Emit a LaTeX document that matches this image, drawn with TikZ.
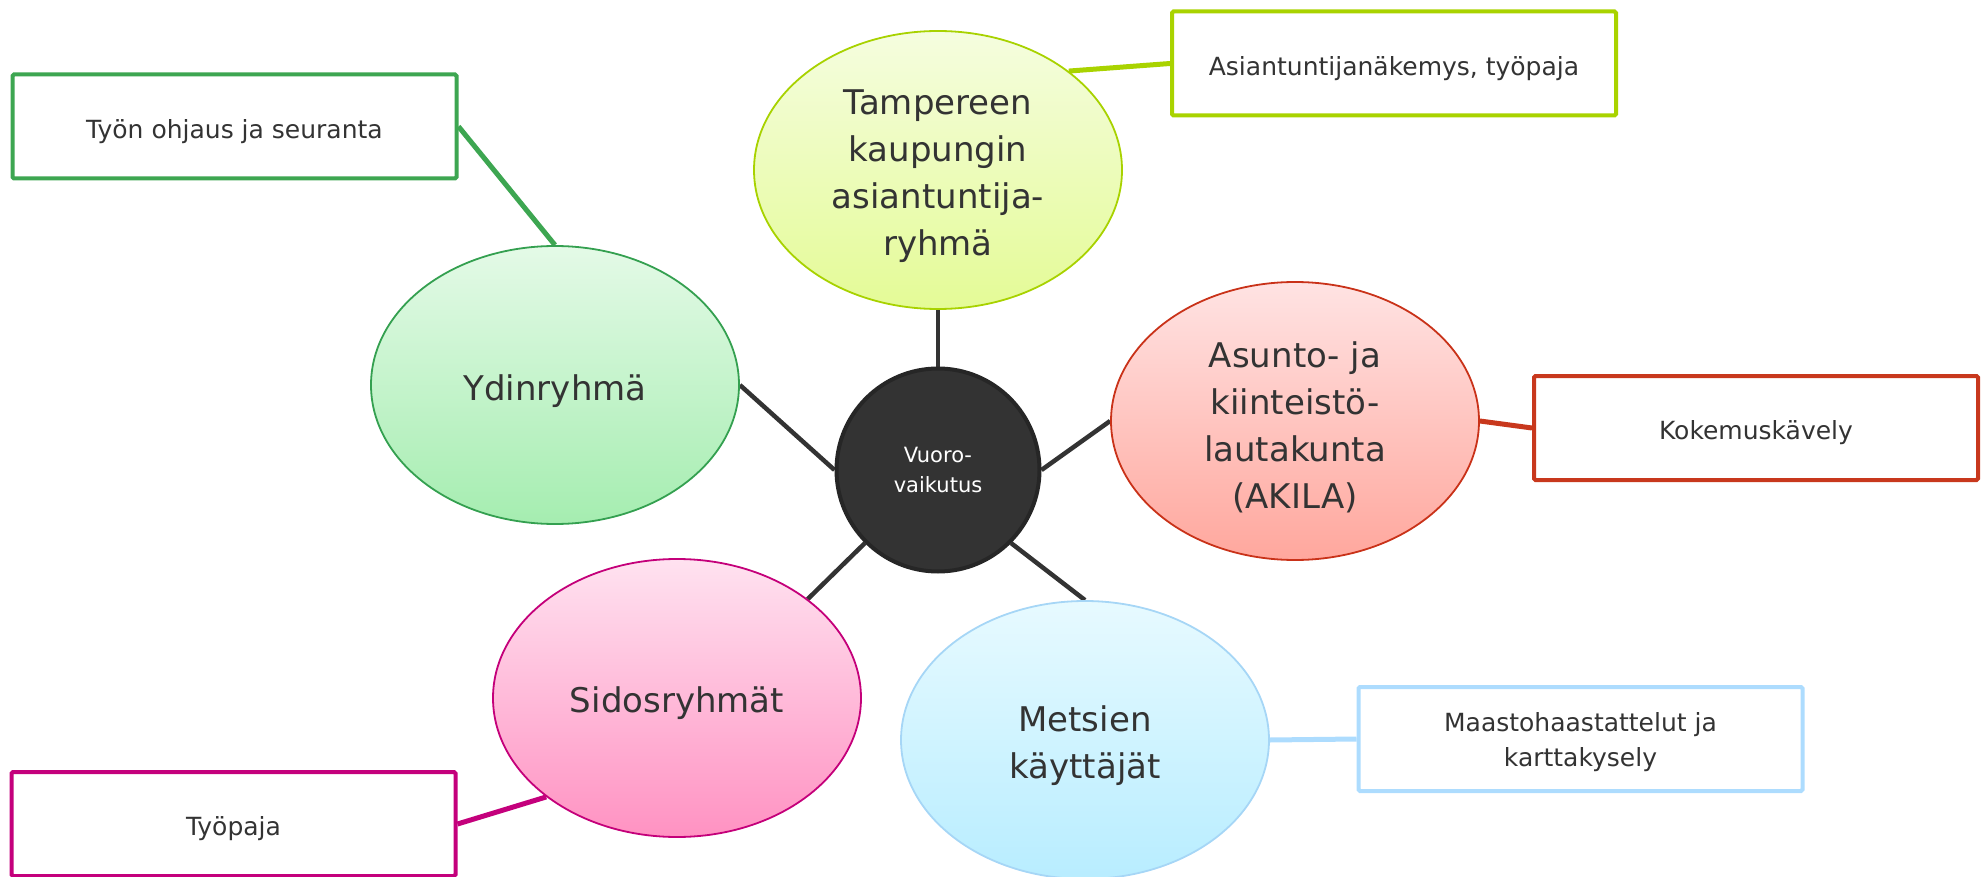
\documentclass[tikz,border=0pt]{standalone}
\usepackage{fontspec}
\setmainfont{DejaVu Sans}
\usetikzlibrary{shapes.geometric,backgrounds}
\definecolor{txt}{HTML}{333333}
\definecolor{dark}{HTML}{333333}
\definecolor{darkrim}{HTML}{262626}
\definecolor{tampTop}{HTML}{F5FDDF}
\definecolor{tampBot}{HTML}{E4FB96}
\definecolor{tampRim}{HTML}{A8D200}
\definecolor{ydinTop}{HTML}{E4FAE7}
\definecolor{ydinBot}{HTML}{A5EDB0}
\definecolor{ydinRim}{HTML}{34A050}
\definecolor{akTop}{HTML}{FFE3E3}
\definecolor{akBot}{HTML}{FFA79D}
\definecolor{akRim}{HTML}{C93219}
\definecolor{sidTop}{HTML}{FFE2F0}
\definecolor{sidBot}{HTML}{FF92C2}
\definecolor{sidRim}{HTML}{C4007A}
\definecolor{metTop}{HTML}{E7FAFF}
\definecolor{metBot}{HTML}{B8EDFF}
\definecolor{metRim}{HTML}{A6D6F6}
\definecolor{boxGreen}{HTML}{3DA651}
\definecolor{boxLime}{HTML}{A9D300}
\definecolor{boxRed}{HTML}{C8381D}
\definecolor{boxPink}{HTML}{C4007C}
\definecolor{boxBlue}{HTML}{ADDCFE}
\begin{document}
\begin{tikzpicture}[x=1pt,y=-1pt,
  bubble/.style={ellipse, draw, line width=1.8pt, minimum width=368pt, minimum height=278pt,
    inner sep=0pt},
  btext/.style={inner sep=0pt, align=center, text=txt, font=\fontsize{34}{47}\selectfont},
  infobox/.style={rectangle, draw, line width=4pt, rounded corners=1.5pt, fill=white,
    minimum width=444pt, minimum height=104pt},
  itext/.style={inner sep=0pt, align=center, text=txt, font=\fontsize{25}{35}\selectfont},
  hubline/.style={draw=dark, line width=4.5pt},
  link/.style={line width=5pt}]
\useasboundingbox (0,0) rectangle (1984,877);

% central hub
\node[circle, fill=dark, draw=darkrim, line width=4pt, minimum size=203pt, inner sep=0pt,
  align=center, text=white, font=\fontsize{21}{30}\selectfont] (vuoro) at (938,470) {Vuoro-\\vaikutus};

% bubbles
\node[bubble, draw=tampRim, top color=tampTop, bottom color=tampBot] (tamp) at (938,170) {};
\node[bubble, draw=ydinRim, top color=ydinTop, bottom color=ydinBot] (ydin) at (555,385) {};
\node[bubble, draw=akRim, top color=akTop, bottom color=akBot] (akila) at (1295,421) {};
\node[bubble, draw=sidRim, top color=sidTop, bottom color=sidBot] (sidos) at (677,698) {};
\node[bubble, draw=metRim, top color=metTop, bottom color=metBot] (mets) at (1085,740) {};

\node[btext] (tampT) at ([yshift=-6pt]tamp.center) {Tampereen\\kaupungin\\asiantuntija-\\ryhmä};
\node[btext] (ydinT) at ([yshift=-6pt]ydin.center) {Ydinryhmä};
\node[btext] (akilaT) at ([yshift=-6pt]akila.center) {Asunto- ja\\kiinteistö-\\lautakunta\\(AKILA)};
\node[btext] (sidosT) at ([yshift=-5pt]sidos.center) {Sidosryhmät};
\node[btext] (metsT) at ([yshift=-6pt]mets.center) {Metsien\\käyttäjät};

% info boxes
\node[infobox, draw=boxGreen] (tyon) at (234.5,126.5) {};
\node[infobox, draw=boxLime] (asi) at (1394,63.5) {};
\node[infobox, draw=boxRed] (koke) at (1756,428) {};
\node[infobox, draw=boxBlue] (maasto) at (1580.5,739) {};
\node[infobox, draw=boxPink] (tyopaja) at (233.5,824) {};

\node[itext] (tyonT) at ([yshift=-5pt]tyon.center) {Työn ohjaus ja seuranta};
\node[itext] (asiT) at ([yshift=-5pt]asi.center) {Asiantuntijanäkemys, työpaja};
\node[itext] (kokeT) at ([yshift=-5pt]koke.center) {Kokemuskävely};
\node[itext] (maastoT) at ([yshift=-3pt]maasto.center) {Maastohaastattelut ja\\karttakysely};
\node[itext] (tyopajaT) at ([yshift=-5pt]tyopaja.center) {Työpaja};

\begin{pgfonlayer}{background}
  \draw[hubline] (vuoro.north) -- (tamp.south);
  \draw[hubline] (vuoro.west) -- (ydin.east);
  \draw[hubline] (vuoro.east) -- (akila.west);
  \draw[hubline] (vuoro.south west) -- (sidos.north east);
  \draw[hubline] (vuoro.south east) -- (mets.north);
  \draw[link, draw=boxGreen] (ydin.north) -- (tyon.east);
  \draw[link, draw=boxLime] (tamp.north east) -- (asi.west);
  \draw[link, draw=boxRed] (akila.east) -- (koke.west);
  \draw[link, draw=boxBlue] (mets.east) -- (maasto.west);
  \draw[link, draw=boxPink] (sidos.south west) -- (tyopaja.east);
\end{pgfonlayer}
\end{tikzpicture}
\end{document}
